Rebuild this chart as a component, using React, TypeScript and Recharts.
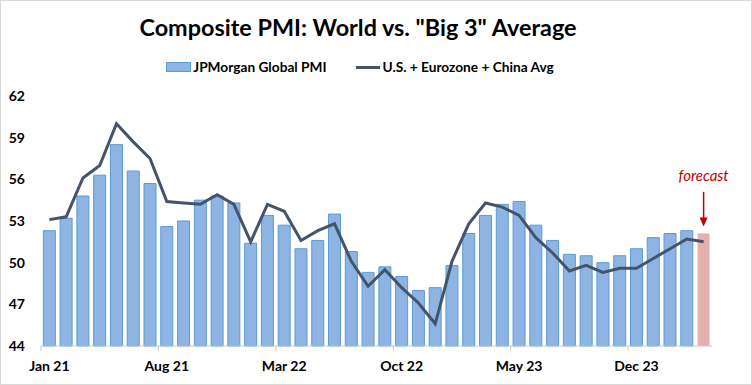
import { ComposedChart, Bar, Line, XAxis, YAxis, Cell, ReferenceLine } from 'recharts'

const months = [
  'Jan 21', 'Feb 21', 'Mar 21', 'Apr 21', 'May 21', 'Jun 21', 'Jul 21', 'Aug 21', 'Sep 21', 'Oct 21', 'Nov 21', 'Dec 21',
  'Jan 22', 'Feb 22', 'Mar 22', 'Apr 22', 'May 22', 'Jun 22', 'Jul 22', 'Aug 22', 'Sep 22', 'Oct 22', 'Nov 22', 'Dec 22',
  'Jan 23', 'Feb 23', 'Mar 23', 'Apr 23', 'May 23', 'Jun 23', 'Jul 23', 'Aug 23', 'Sep 23', 'Oct 23', 'Nov 23', 'Dec 23',
  'Jan 24', 'Feb 24', 'Mar 24', 'Apr 24'
]

// JPMorgan Global Composite PMI (last month = forecast)
const globalPmi = [
  52.3, 53.2, 54.8, 56.3, 58.5, 56.6, 55.7, 52.6, 53.0, 54.5, 54.8, 54.3,
  51.4, 53.4, 52.7, 51.0, 51.6, 53.5, 50.8, 49.3, 49.7, 49.0, 48.0, 48.2,
  49.8, 52.1, 53.4, 54.2, 54.4, 52.7, 51.6, 50.6, 50.5, 50.0, 50.5, 51.0,
  51.8, 52.1, 52.3, 52.1
]

// average of U.S., Eurozone and China composite PMIs
const bigThreeAvg = [
  53.1, 53.3, 56.1, 57.0, 60.0, 58.7, 57.5, 54.4, 54.3, 54.2, 54.9, 54.2,
  51.5, 54.2, 53.7, 51.6, 52.3, 52.8, 50.1, 48.3, 49.5, 48.2, 47.1, 45.6,
  50.1, 52.8, 54.3, 54.0, 53.4, 51.8, 50.7, 49.4, 49.8, 49.3, 49.6, 49.6,
  50.3, 51.0, 51.7, 51.5
]

const yTicks = [44, 47, 50, 53, 56, 59, 62]
const forecastMonth = 'Apr 24'
const arrowFrom = 55.1
const arrowTo = 52.6

const data = months.map((m, i) => ({ month: m, world: globalPmi[i], big3: bigThreeAvg[i] }))

const W = 752
const H = 385
const margin = { top: 96, right: 40, bottom: 0, left: 0 }
const yAxisW = 41
const xAxisH = 39
const band = (W - margin.left - margin.right - yAxisW) / months.length
const font = 'Lato, "Open Sans", sans-serif'

const barFill = '#8DB4E2'
const barStroke = '#5B9BD5'
const lineColor = '#44546A'
const red = '#C00000'

const XTick = (props: any) => {
  const { x, y, payload } = props
  const lx = x - band / 2
  return (
    <g>
      <line x1={lx} x2={lx} y1={y} y2={y + 5} stroke="#C8C8C8" />
      <text x={x} y={y} dy={25} textAnchor="middle" fontFamily={font} fontWeight="bold" fontSize={14} fill="#000">
        {payload.value}
      </text>
    </g>
  )
}

const ArrowShape = (props: any) => {
  const { x1, y1, x2, y2 } = props
  return (
    <g>
      <text x={x1} y={y1 - 11} textAnchor="middle" fontFamily={font} fontStyle="italic" fontSize={15} fill={red}>
        forecast
      </text>
      <line x1={x1} x2={x2} y1={y1} y2={y2 - 8} stroke={red} strokeWidth={1.5} />
      <polygon points={`${x2 - 4},${y2 - 9} ${x2 + 4},${y2 - 9} ${x2},${y2}`} fill={red} />
    </g>
  )
}

export default function App() {
  return (
    <div style={{ position: 'absolute', left: 0, top: 0, width: W, height: H, background: '#fff' }}>
      <div
        style={{
          position: 'absolute', left: 0, top: 12, width: 716, textAlign: 'center',
          fontFamily: font, fontWeight: 'bold', fontSize: 23.4, color: '#000', lineHeight: '30px'
        }}
      >
        Composite PMI: World vs. "Big 3" Average
      </div>
      <div
        style={{
          position: 'absolute', left: 0, top: 58, width: 720, display: 'flex', justifyContent: 'center', gap: 29,
          fontFamily: font, fontWeight: 'bold', fontSize: 13.7, color: '#000', lineHeight: '18px'
        }}
      >
        <div style={{ display: 'flex', alignItems: 'center' }}>
          <span style={{ display: 'inline-block', width: 23, height: 8, background: barFill, border: `1px solid ${barStroke}`, marginRight: 2 }} />
          JPMorgan Global PMI
        </div>
        <div style={{ display: 'flex', alignItems: 'center' }}>
          <span style={{ display: 'inline-block', width: 24, height: 3, background: lineColor, marginRight: 3 }} />
          U.S. + Eurozone + China Avg
        </div>
      </div>
      <ComposedChart width={W} height={H} data={data} margin={margin} barCategoryGap="14%">
        <XAxis
          dataKey="month"
          height={xAxisH}
          interval={6}
          tickSize={0}
          tickMargin={0}
          tickLine={false}
          axisLine={{ stroke: '#C8C8C8' }}
          tick={<XTick />}
        />
        <YAxis
          width={yAxisW}
          domain={[44, 62]}
          ticks={yTicks}
          axisLine={false}
          tickLine={false}
          tickSize={0}
          tickMargin={16}
          tick={{ fill: '#000', fontSize: 14, fontWeight: 'bold', fontFamily: font }}
        />
        <Bar dataKey="world" name="JPMorgan Global PMI" fill={barFill} stroke={barStroke} strokeWidth={1} isAnimationActive={false}>
          {data.map((d) => (
            <Cell key={d.month} fill={d.month === forecastMonth ? '#E6B0AE' : barFill} stroke={d.month === forecastMonth ? 'none' : barStroke} />
          ))}
        </Bar>
        <Line
          dataKey="big3"
          name="U.S. + Eurozone + China Avg"
          type="linear"
          stroke={lineColor}
          strokeWidth={3}
          dot={false}
          isAnimationActive={false}
        />
        <ReferenceLine
          segment={[{ x: forecastMonth, y: arrowFrom }, { x: forecastMonth, y: arrowTo }]}
          shape={<ArrowShape />}
        />
      </ComposedChart>
      <div style={{ position: 'absolute', left: 0, top: 0, width: W, height: H, boxSizing: 'border-box', border: '1px solid #D9D9D9', pointerEvents: 'none' }} />
    </div>
  )
}
